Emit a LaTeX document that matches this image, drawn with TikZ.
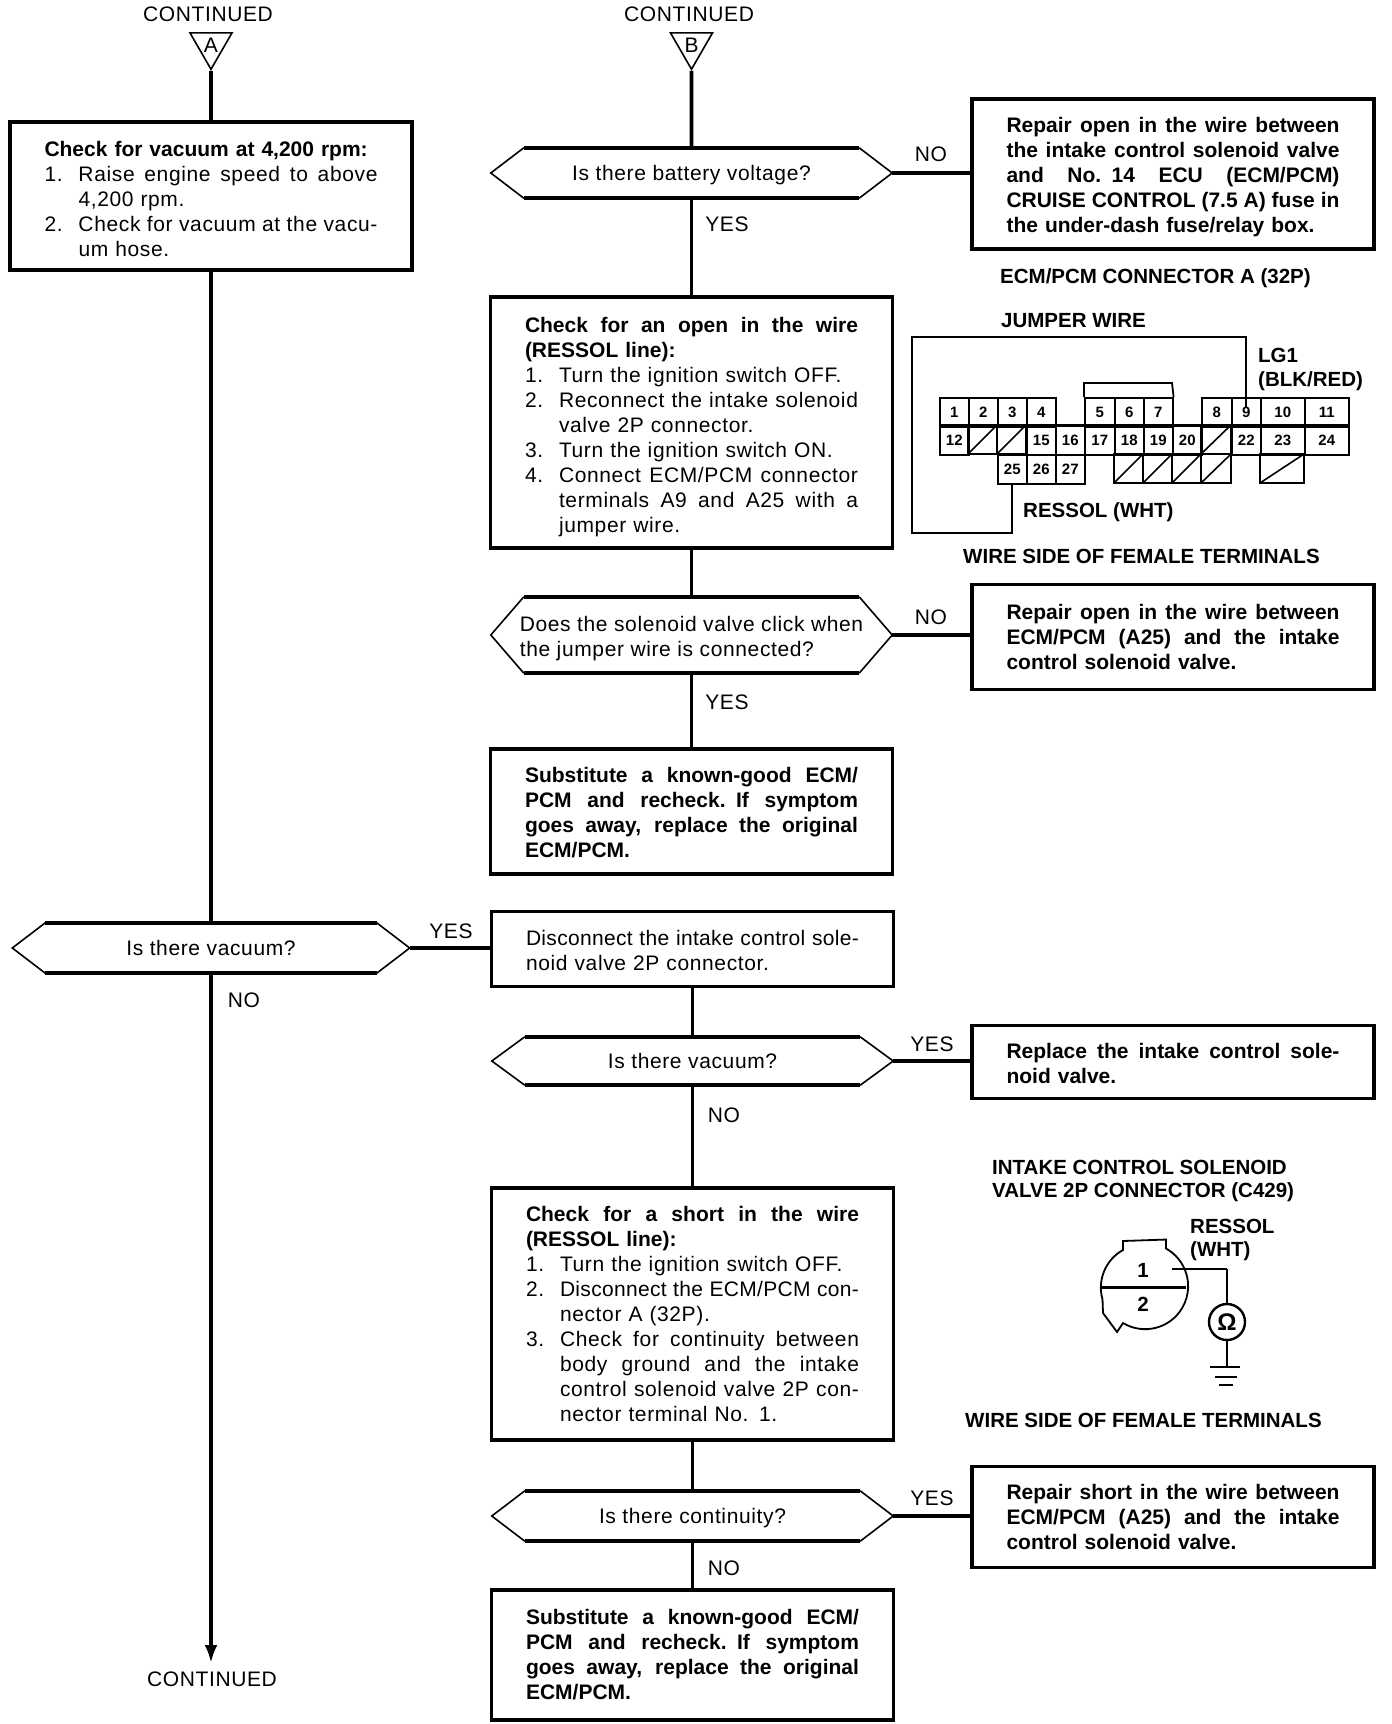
\documentclass[tikz,border=0pt]{standalone}
\usepackage{fontspec}
\setmainfont{Liberation Sans}[LetterSpace=3,BoldFeatures={LetterSpace=0}]
\usetikzlibrary{shapes.geometric,arrows.meta}
\tikzset{
	box/.style={draw,line width=3.2pt,rectangle,inner sep=0pt,minimum width=#1,text width=333pt,align=left,font=\bodyfont},
	box/.default=402pt,
	hexbox/.style={rectangle,inner sep=0pt,minimum width=401pt,minimum height=#1,text depth=0pt,font=\bodyfont,align=left},
	hexbox/.default=50pt,
	flow/.style={line width=3.6pt},
	tag/.style={inner sep=0pt,font=\bodyfont},
	head/.style={inner sep=0pt,font=\bfseries\headfont,anchor=west},
	cell/.style={draw,line width=1.6pt,rectangle,inner sep=0pt,minimum height=29pt,font=\bfseries\fontsize{15}{15}\selectfont},
	tri/.style={draw,line width=1.6pt,regular polygon,regular polygon sides=3,shape border rotate=180,minimum size=48.5pt,inner sep=0pt,font=\bodyfont},
	wire/.style={line width=1.8pt}
}
\newcommand{\bodyfont}{\fontsize{21}{25}\selectfont}
\newcommand{\headfont}{\fontsize{20.5}{25}\selectfont}
% full width line, and numbered lines
\newcommand{\fitline}[2]{{\spaceskip=.25em plus 1fil minus 1fil\relax\makebox[#1][s]{#2}}}
\newcommand{\fline}[1]{\fitline{333pt}{#1}}
\newcommand{\nline}[2]{\makebox[34pt][l]{#1}\fitline{299pt}{#2}}
\newcommand{\pline}[2]{\makebox[34pt][l]{#1}#2}
\newcommand{\dn}[1]{\rule{0pt}{#1pt}}
\newcommand{\tight}{\addfontfeatures{LetterSpace=1.5}}
\begin{document}
\begin{tikzpicture}[x=1pt,y=-1pt]
	\useasboundingbox (0,0) rectangle (1392,1724);

	% left column
	\node[tag] (contA) at (208,14) {CONTINUED};
	\node[tri] (triA) at (211,45) {A};
	\node[box,minimum height=148pt] (vacA) at (211,196) {\dn{21.6}\textbf{Check for vacuum at 4,200 rpm:}\\
		\nline{1.}{Raise engine speed to above}\\
		\pline{}{4,200 rpm.}\\
		\nline{2.}{Check for vacuum at the vacu-}\\
		\pline{}{um hose.}};
	\node[hexbox,minimum width=397pt] (decL) at (211,948) {Is there vacuum?};
	\node[tag] (yesL) at (451,931) {YES};
	\node[tag] (noL) at (244,1000) {NO};
	\node[tag] (contC) at (212,1679) {CONTINUED};
	\coordinate (endL) at (211,1663);

	% right column
	\node[tag] (contB) at (689,14) {CONTINUED};
	\node[tri] (triB) at (691.5,45) {B};

	\node[hexbox] (dec1) at (691.5,173) {Is there battery voltage?};
	\node[box,minimum height=150pt] (rep1) at (1173,174) {\dn{21.6}\bfseries\fline{Repair open in the wire between}\\
		\fline{the intake control solenoid valve}\\
		\fline{and No. 14 ECU (ECM/PCM)}\\
		\fline{CRUISE CONTROL (7.5 A) fuse in}\\
		the under-dash fuse/relay box.};
	\node[tag] (no1) at (931,154) {NO};
	\node[tag] (yes1) at (727,224) {YES};

	\node[box,minimum height=251pt] (open) at (691.5,422.5) {\dn{23.8}\textbf{\fline{Check for an open in the wire}}\\
		\textbf{(RESSOL line):}\\
		\pline{1.}{Turn the ignition switch OFF.}\\
		\nline{2.}{Reconnect the intake solenoid}\\
		\pline{}{valve 2P connector.}\\
		\pline{3.}{Turn the ignition switch ON.}\\
		\nline{4.}{Connect ECM/PCM connector}\\
		\nline{}{terminals A9 and A25 with a}\\
		\pline{}{jumper wire.}};
	\node[hexbox=76pt] (dec2) at (691.5,635) {\dn{17}Does the solenoid valve click when\\the jumper wire is connected?};
	\node[box,minimum height=105pt] (rep2) at (1173,637) {\bfseries\fline{Repair open in the wire between}\\
		\fline{ECM/PCM (A25) and the intake}\\
		control solenoid valve.};
	\node[tag] (no2) at (931,617) {NO};
	\node[tag] (yes2) at (727,702) {YES};

	\node[box,minimum height=125pt] (sub1) at (691.5,811.5) {\dn{17}\bfseries\fline{Substitute a known-good ECM/}\\
		\fline{PCM and recheck. If symptom}\\
		\fline{goes away, replace the original}\\
		ECM/PCM.};

	\node[box,minimum height=75pt] (disc) at (692.5,949) {\dn{19}{\tight\fline{Disconnect the intake control sole-}}\\
		noid valve 2P connector.};
	\node[hexbox=48pt] (dec3) at (692.5,1061) {Is there vacuum?};
	\node[box,minimum height=73pt] (rep3) at (1173,1062) {\dn{19}\bfseries\fline{Replace the intake control sole-}\\
		noid valve.};
	\node[tag] (yes3) at (932,1044) {YES};
	\node[tag] (no3) at (724,1115) {NO};

	\node[box,minimum height=252pt] (short) at (692.5,1314) {\textbf{\fline{Check for a short in the wire}}\\
		\textbf{(RESSOL line):}\\
		\pline{1.}{Turn the ignition switch OFF.}\\
		\nline{2.}{\tight Disconnect the ECM/PCM con-}\\
		\pline{}{nector A (32P).}\\
		\nline{3.}{Check for continuity between}\\
		\nline{}{body ground and the intake}\\
		\nline{}{control solenoid valve 2P con-}\\
		\pline{}{nector terminal No. 1.}};
	\node[hexbox] (dec4) at (692.5,1516) {Is there continuity?};
	\node[box,minimum height=101pt] (rep4) at (1173,1517) {\bfseries\fline{Repair short in the wire between}\\
		\fline{ECM/PCM (A25) and the intake}\\
		control solenoid valve.};
	\node[tag] (yes4) at (932,1498) {YES};
	\node[tag] (no4) at (724,1568) {NO};
	\node[box,minimum height=130pt] (sub2) at (692.5,1655) {\bfseries\fline{Substitute a known-good ECM/}\\
		\fline{PCM and recheck. If symptom}\\
		\fline{goes away, replace the original}\\
		ECM/PCM.};

	% decision outlines
	\foreach \dec in {decL,dec1,dec2,dec3,dec4} {
		\draw[line width=1.6pt] (\dec.north west) ++(33,0) -- (\dec.west) -- ([xshift=33pt]\dec.south west);
		\draw[line width=1.6pt] (\dec.north east) ++(-33,0) -- (\dec.east) -- ([xshift=-33pt]\dec.south east);
		\draw[line width=3.6pt] ([xshift=33pt]\dec.north west) -- ([xshift=-33pt]\dec.north east);
		\draw[line width=3.6pt] ([xshift=33pt]\dec.south west) -- ([xshift=-33pt]\dec.south east);
	}

	% flow lines
	\draw[flow] (triA.south) -- (vacA.north);
	\draw[flow] (vacA.south) -- (decL.north);
	\draw[flow,-{Latex[length=18pt,width=13pt]}] (decL.south) -- (endL);
	\draw[flow] (decL.east) -- (decL.east -| disc.west);
	\draw[flow] (triB.south) -- (dec1.north);
	\draw[flow] (dec1.south) -- (open.north);
	\draw[flow] (open.south) -- (dec2.north);
	\draw[flow] (dec2.south) -- (sub1.north);
	\draw[flow] (disc.south) -- (dec3.north);
	\draw[flow] (dec3.south) -- (short.north);
	\draw[flow] (short.south) -- (dec4.north);
	\draw[flow] (dec4.south) -- (sub2.north);
	\draw[flow] (dec1.east) -- (dec1.east -| rep1.west);
	\draw[flow] (dec2.east) -- (dec2.east -| rep2.west);
	\draw[flow] (dec3.east) -- (dec3.east -| rep3.west);
	\draw[flow] (dec4.east) -- (dec4.east -| rep4.west);

	% ECM/PCM connector
	\node[head] (ecmT) at (1000,278) {ECM/PCM CONNECTOR A (32P)};
	\node[head] (jumpT) at (1001,321) {JUMPER WIRE};
	\node[head] (lgA) at (1258,355) {LG1};
	\node[head] (lgB) at (1258,381) {(BLK/RED)};
	\node[head] (resT) at (1023,512) {RESSOL (WHT)};
	\node[head] (sideA) at (963,556) {WIRE SIDE OF FEMALE TERMINALS};

	\foreach \xa/\cw/\lab in {939/29/1,968/29/2,997/29/3,1026/29/4,1084/30/5,1114/29/6,1143/29/7,1201/30/8,1231/29/9,1260/44/10,1304/44/11}
		\node[cell,minimum width=\cw pt,anchor=north west] (c\lab) at (\xa,397) {\lab};
	\foreach \xa/\cw/\lab in {939/29/12,1026/29/15,1055/29/16,1084/30/17,1114/29/18,1143/29/19,1172/29/20,1231/29/22,1260/44/23,1304/44/24}
		\node[cell,minimum width=\cw pt,anchor=north west] (c\lab) at (\xa,425) {\lab};
	\foreach \xa/\cw/\lab in {997/29/25,1026/29/26,1055/29/27}
		\node[cell,minimum width=\cw pt,anchor=north west] (c\lab) at (\xa,454) {\lab};
	% blank terminals
	\foreach \xa/\ya/\cw in {968/425/29,997/425/29,1201/425/30,1114/454/29,1143/454/29,1172/454/29,1201/454/30,1260/454/44}
		\draw[line width=1.6pt] (\xa,\ya) rectangle ++(\cw,29) (\xa,\ya+29) -- ++(\cw,-29);
	\draw[line width=3pt] (c12.north west) -- (c24.north east);
	\draw[wire] (c5.north west) |- (1172,383) -- (c7.north east);

	\coordinate (wireTL) at (912,337);
	\coordinate (wireBL) at (912,533);
	\draw[wire] ([yshift=4pt]c9.center) -- (c9.center |- wireTL) -- (wireTL) -- (wireBL) -- (wireBL -| c25.south) -- (c25.south);

	% solenoid connector
	\node[head] (solA) at (992,1167) {INTAKE CONTROL SOLENOID};
	\node[head] (solB) at (992,1192) {VALVE 2P CONNECTOR (C429)};
	\node[head] (resA) at (1190,1226) {RESSOL};
	\node[head] (resB) at (1190,1251) {(WHT)};
	\node[head] (sideB) at (965,1420) {WIRE SIDE OF FEMALE TERMINALS};
	\node[inner sep=0pt,font=\bfseries\headfont] (pin1) at (1143,1270) {1};
	\node[inner sep=0pt,font=\bfseries\headfont] (pin2) at (1143,1304) {2};
	\draw[wire] (1123,1323) arc[start angle=239,end angle=421,radius=43pt] -- ++(0,-9) -- (1123,1241) -- (1123,1250)
		arc[start angle=119,end angle=196,radius=43pt] -- (1103,1313) -- (1117,1332) -- cycle;
	\draw[line width=3pt] (1101,1287) -- (1186,1287);
	\node[draw,circle,line width=2.4pt,minimum size=36pt,inner sep=0pt,font=\bfseries\fontsize{24}{24}\selectfont] (ohm) at (1227,1322) {Ω};
	\coordinate (pinW) at (1172,1269);
	\coordinate (gnd) at (1227,1367);
	\draw[line width=2.6pt] (pinW) -- (pinW -| ohm.north);
	\draw[wire] (pinW -| ohm.north) -- (ohm.north);
	\draw[wire] (ohm.south) -- (gnd);
	\draw[wire] (1210,1367) -- (1240,1367) (1215,1377) -- (1237,1377) (1219,1385) -- (1233,1385);
\end{tikzpicture}
\end{document}
